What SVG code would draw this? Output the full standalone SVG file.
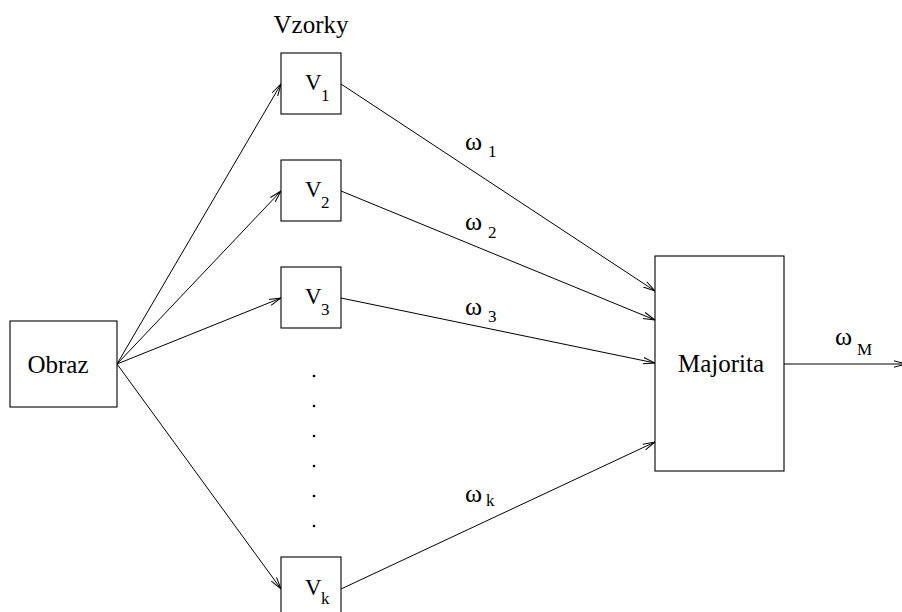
<svg xmlns="http://www.w3.org/2000/svg" width="902" height="612" viewBox="0 0 902 612">
<style>
.box{fill:#fff;stroke:#000;stroke-width:1.1}
.ln{fill:none;stroke:#000;stroke-width:1}
text{font-family:"Liberation Serif",Tinos,"Times New Roman",Times,"DejaVu Serif","Noto Serif",serif;fill:#000}
.big{font-size:25px}
.v{font-size:23px}
.sub{font-size:17px}
.w{font-size:26px}
</style>
<defs>
<marker id="ah" markerUnits="userSpaceOnUse" markerWidth="14" markerHeight="10" refX="12" refY="5" orient="auto" viewBox="0 0 14 10">
<path d="M0,1.8 L12,5 L0,8.2" fill="none" stroke="#000" stroke-width="1"/>
</marker>
</defs>
<rect width="902" height="612" fill="#fff"/>
<g id="connectors">
<line class="ln" x1="117" y1="364" x2="281" y2="84" marker-end="url(#ah)"/>
<line class="ln" x1="117" y1="364" x2="281" y2="191" marker-end="url(#ah)"/>
<line class="ln" x1="117" y1="364" x2="281" y2="298" marker-end="url(#ah)"/>
<line class="ln" x1="117" y1="364" x2="281" y2="589" marker-end="url(#ah)"/>
<line class="ln" x1="341" y1="84" x2="655" y2="291" marker-end="url(#ah)"/>
<line class="ln" x1="341" y1="191" x2="655" y2="320" marker-end="url(#ah)"/>
<line class="ln" x1="341" y1="298" x2="655" y2="363" marker-end="url(#ah)"/>
<line class="ln" x1="341" y1="589" x2="655" y2="442" marker-end="url(#ah)"/>
<line class="ln" x1="784" y1="364" x2="906" y2="364" marker-end="url(#ah)"/>
<text class="w" x="465" y="150" font-family="Liberation Serif, serif">ω<tspan class="sub" x="488" y="157">1</tspan></text>
<text class="w" x="465" y="230" font-family="Liberation Serif, serif">ω<tspan class="sub" x="488" y="238">2</tspan></text>
<text class="w" x="465" y="315" font-family="Liberation Serif, serif">ω<tspan class="sub" x="488" y="322">3</tspan></text>
<text class="w" x="465" y="502" font-family="Liberation Serif, serif">ω<tspan class="sub" x="486" y="506">k</tspan></text>
<text class="w" x="835" y="345" font-family="Liberation Serif, serif">ω<tspan class="sub" x="857" y="355">M</tspan></text>
</g>
<g id="obraz">
<rect class="box" x="10" y="321" width="107" height="86"/>
<text class="big" x="58" y="373" text-anchor="middle" font-family="Liberation Serif, serif">Obraz</text>
</g>
<g id="vzorky-label">
<text class="big" x="311" y="33" text-anchor="middle" font-family="Liberation Serif, serif">Vzorky</text>
</g>
<g id="v1">
<rect class="box" x="281" y="53" width="60" height="61"/>
<text class="v" x="305" y="90" font-family="Liberation Serif, serif">V<tspan class="sub" x="321" y="101">1</tspan></text>
</g>
<g id="v2">
<rect class="box" x="281" y="160" width="60" height="61"/>
<text class="v" x="305" y="197" font-family="Liberation Serif, serif">V<tspan class="sub" x="321" y="208">2</tspan></text>
</g>
<g id="v3">
<rect class="box" x="281" y="267" width="60" height="61"/>
<text class="v" x="305" y="304" font-family="Liberation Serif, serif">V<tspan class="sub" x="321" y="315">3</tspan></text>
</g>
<g id="dots">
<circle cx="314" cy="376" r="1.3"/>
<circle cx="314" cy="406" r="1.3"/>
<circle cx="314" cy="436" r="1.3"/>
<circle cx="314" cy="466" r="1.3"/>
<circle cx="314" cy="496" r="1.3"/>
<circle cx="314" cy="526" r="1.3"/>
</g>
<g id="vk">
<rect class="box" x="281" y="557" width="60" height="61"/>
<text class="v" x="305" y="595" font-family="Liberation Serif, serif">V<tspan class="sub" x="321" y="604">k</tspan></text>
</g>
<g id="majorita">
<rect class="box" x="655" y="256" width="129" height="215"/>
<text class="big" x="721" y="372" text-anchor="middle" font-family="Liberation Serif, serif">Majorita</text>
</g>
</svg>
